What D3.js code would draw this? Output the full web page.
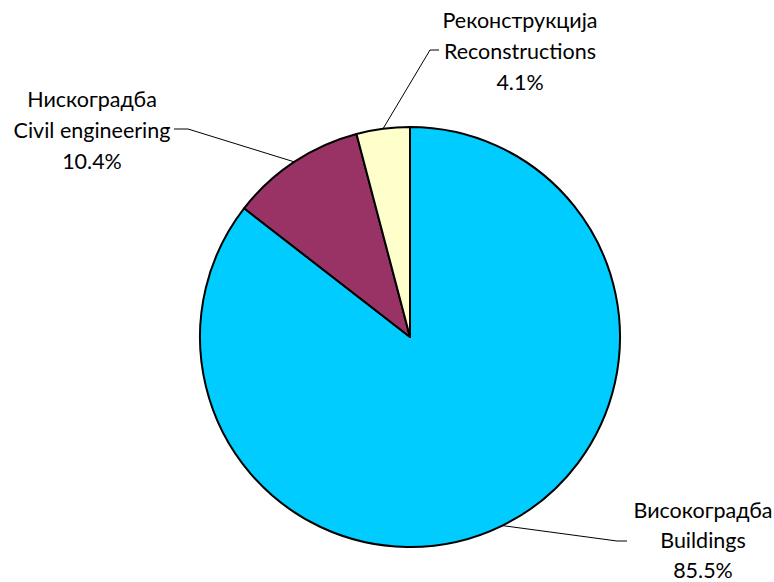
<!DOCTYPE html>
<html><head><meta charset="utf-8">
<script src="https://cdn.jsdelivr.net/npm/d3@7"></script>
<style>body{margin:0;background:#fff}</style>
</head><body>
<svg id="c" width="774" height="582"></svg>
<script>
const categoriesSr = ["Високоградба", "Нискоградба", "Реконструкција"];
const categoriesEn = ["Buildings", "Civil engineering", "Reconstructions"];
const values = [85.5, 10.4, 4.1];
const colors = ["#00CCFF", "#993366", "#FFFFCC"];

const svg = d3.select("#c");
const cx = 410, cy = 337, r = 210;
const g = svg.append("g").attr("transform", `translate(${cx},${cy})`);
const pie = d3.pie().sort(null).value(d => d)(values);
const arc = d3.arc().innerRadius(0).outerRadius(r);
g.selectAll("path").data(pie).join("path")
  .attr("d", arc).attr("fill", (d,i) => colors[i])
  .attr("stroke", "#000").attr("stroke-width", 2).attr("stroke-linejoin","round");

const labelPos = [
  {tx: 703, ly: 541, ex: 617, lx: 627, off: 7, gap: 30},
  {tx: 92, ly: 129, ex: 188, lx: 174, off: 9, gap: 31},
  {tx: 520, ly: 50, ex: 430, lx: 439, off: 9, gap: 31}
];
const font = "Lato, 'Open Sans', sans-serif";
pie.forEach((d, i) => {
  const a = (d.startAngle + d.endAngle) / 2;
  const px = cx + r * Math.sin(a), py = cy - r * Math.cos(a);
  const p = labelPos[i];
  svg.append("polyline")
    .attr("points", `${px},${py} ${p.ex},${p.ly} ${p.lx},${p.ly}`)
    .attr("fill", "none").attr("stroke", "#000").attr("stroke-width", 1);
  const t = svg.append("text").attr("x", p.tx).attr("text-anchor", "middle")
    .attr("font-family", font).attr("font-size", 21.5).attr("fill", "#000");
  const lines = [categoriesSr[i], categoriesEn[i], d3.format(".1f")(values[i]) + "%"];
  lines.forEach((s, k) => {
    t.append("tspan").attr("x", p.tx).attr("y", p.ly + p.off + (k - 1) * p.gap).text(s);
  });
});
</script>
</body></html>
